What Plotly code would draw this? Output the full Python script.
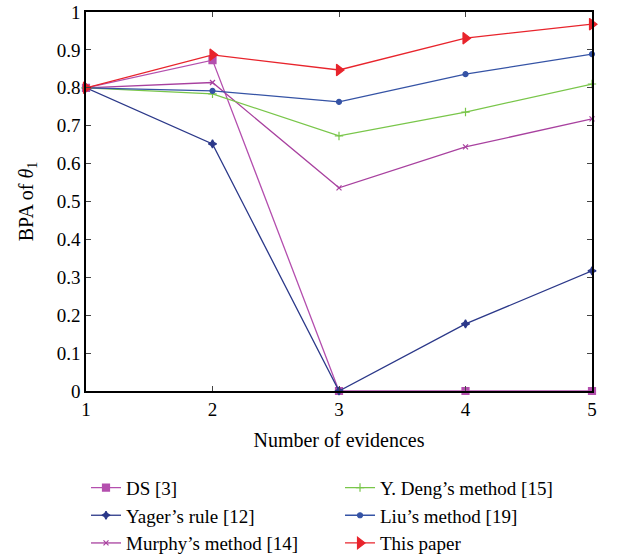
import plotly.graph_objects as go

x = [1, 2, 3, 4, 5]
ds = [0.8, 0.873, 0.0, 0.0, 0.0]
yager = [0.8, 0.652, 0.0, 0.177, 0.317]
murphy = [0.8, 0.814, 0.536, 0.644, 0.718]
deng = [0.8, 0.784, 0.673, 0.736, 0.81]
liu = [0.8, 0.792, 0.763, 0.836, 0.889]
paper = [0.8, 0.887, 0.847, 0.931, 0.968]

FONT = "Liberation Serif"

series = [
    ("DS [3]", ds, "#b44fae", "square", 7, "legend"),
    ("Yager’s rule [12]", yager, "#2b3889", "star-diamond", 6, "legend"),
    ("Murphy’s method [14]", murphy, "#a8419f", "x-thin", 5, "legend"),
    ("Y. Deng’s method [15]", deng, "#79c64a", "cross-thin", 6, "legend2"),
    ("Liu’s method [19]", liu, "#3553a5", "circle", 5, "legend2"),
    ("This paper", paper, "#e8242c", "triangle-right", 10, "legend2"),
]

fig = go.Figure()
for name, vals, col, sym, sz, lg in series:
    fig.add_trace(go.Scatter(
        x=x, y=vals, name=name, mode="lines+markers",
        line=dict(color=col, width=1.3),
        marker=dict(symbol=sym, size=sz, color=col, line=dict(color=col, width=1.2)),
        legend=lg, cliponaxis=False,
    ))

fig.update_layout(
    width=631, height=556,
    margin=dict(l=86, r=39, t=12, b=165, autoexpand=False),
    paper_bgcolor="white", plot_bgcolor="white",
    font=dict(family=FONT, size=19, color="black"),
    showlegend=True,
    legend=dict(x=0.0, y=-0.205, xanchor="left", yanchor="top",
                font=dict(family=FONT, size=19), itemwidth=30,
                bgcolor="rgba(0,0,0,0)", tracegroupgap=0),
    legend2=dict(x=0.502, y=-0.205, xanchor="left", yanchor="top",
                 font=dict(family=FONT, size=19), itemwidth=30,
                 bgcolor="rgba(0,0,0,0)", tracegroupgap=0),
)
fig.update_xaxes(
    range=[1, 5], tickvals=[1, 2, 3, 4, 5], ticks="inside", ticklen=5,
    showline=True, linecolor="black", linewidth=1.5, mirror="ticks",
    showgrid=False, zeroline=False, automargin=False,
    title=dict(text="Number of evidences", font=dict(family=FONT, size=20), standoff=14),
    tickfont=dict(size=19), ticklabeloverflow="allow",
)
fig.update_yaxes(
    range=[0, 1], tickvals=[0, 0.1, 0.2, 0.3, 0.4, 0.5, 0.6, 0.7, 0.8, 0.9, 1],
    ticktext=["0", "0.1", "0.2", "0.3", "0.4", "0.5", "0.6", "0.7", "0.8", "0.9", "1"],
    ticks="inside", ticklen=5,
    showline=True, linecolor="black", linewidth=1.5, mirror="ticks",
    showgrid=False, zeroline=False, automargin=False,
    title=dict(text="BPA of <i>θ</i><sub>1</sub>", font=dict(family=FONT, size=20), standoff=18),
    tickfont=dict(size=19), ticklabeloverflow="allow",
)

fig.write_html("out.html", config={"displayModeBar": False},
               post_script="document.body.style.margin='0';")
